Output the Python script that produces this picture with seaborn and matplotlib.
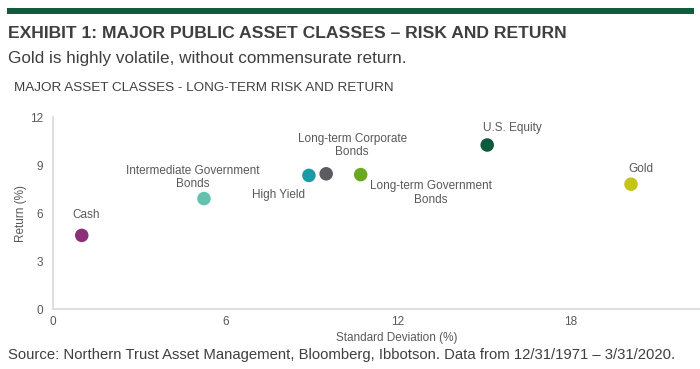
import matplotlib
matplotlib.use("Agg")
import matplotlib.pyplot as plt
import seaborn as sns
import pandas as pd

names = ["Cash", "Intermediate Government\nBonds", "High Yield",
         "Long-term Corporate\nBonds", "Long-term Government\nBonds",
         "U.S. Equity", "Gold"]
std_dev = [1.0, 5.25, 8.9, 9.5, 10.7, 15.1, 20.1]
returns = [4.6, 6.9, 8.35, 8.45, 8.4, 10.25, 7.8]
colors = ["#8B2F78", "#62C2AE", "#1A9BA6", "#5B5C60", "#6BA822", "#0E5A3C", "#C4C41A"]
x_ticks = [0, 6, 12, 18]
y_ticks = [0, 3, 6, 9, 12]

# label offsets in pixels (dx, dy) relative to each point
offsets = [(4, 20), (-11, 21), (-30, -20), (26, 28), (70, -18.5), (25, 16.7), (10, 15.6)]

sns.set_theme(style="white")
plt.rcParams['font.family'] = ['Liberation Sans', 'DejaVu Sans']

W, H = 700, 369
fig = plt.figure(figsize=(7.0, 3.69), dpi=100)
fig.patch.set_facecolor("white")

# top green rule
fig.add_artist(plt.Line2D([7 / W, 694 / W], [1 - 10.5 / H, 1 - 10.5 / H], color="#0D5C3A", lw=4.3, solid_capstyle="butt"))

fig.text(8 / W, 1 - 34 / H, "EXHIBIT 1: MAJOR PUBLIC ASSET CLASSES – RISK AND RETURN",
         fontsize=12.6, fontweight="bold", color="#3F3F3F", va="center", ha="left")
fig.text(8 / W, 1 - 58 / H, "Gold is highly volatile, without commensurate return.",
         fontsize=12.3, color="#3F3F3F", va="center", ha="left")
fig.text(14 / W, 1 - 88 / H, "MAJOR ASSET CLASSES - LONG-TERM RISK AND RETURN",
         fontsize=9.7, color="#404040", va="center", ha="left")
fig.text(8 / W, 1 - 355 / H,
         "Source: Northern Trust Asset Management, Bloomberg, Ibbotson. Data from 12/31/1971 – 3/31/2020.",
         fontsize=10.7, color="#3F3F3F", va="center", ha="left")

ax = fig.add_axes([53 / W, 1 - 309 / H, (700 - 53) / W, (309 - 117) / H])
df = pd.DataFrame({"Asset": names, "Std": std_dev, "Ret": returns})
sns.scatterplot(data=df, x="Std", y="Ret", hue="Asset", palette=colors, s=95,
                edgecolor="none", legend=False, ax=ax, zorder=3)

for n, xv, yv, (dx, dy) in zip(names, std_dev, returns, offsets):
    ax.annotate(n, (xv, yv), xytext=(dx * 0.72, dy * 0.72), textcoords="offset points",
                ha="center", va="center", fontsize=8.5, color="#595959", linespacing=1.15)

ax.set_xlim(0, 22.5)
ax.set_ylim(0, 12)
ax.set_xticks(x_ticks)
ax.set_yticks(y_ticks)
ax.tick_params(axis="both", length=0, labelsize=8.5, labelcolor="#595959")
ax.tick_params(axis="y", pad=7)
ax.tick_params(axis="x", pad=5)
for s in ["top", "right"]:
    ax.spines[s].set_visible(False)
for s in ["left", "bottom"]:
    ax.spines[s].set_color("#D9D9D9")
    ax.spines[s].set_linewidth(1.2)
ax.set_xlabel("Standard Deviation (%)", fontsize=8.5, color="#595959", labelpad=5)
ax.xaxis.set_label_coords((397 - 53) / 647, -23 / 192)
ax.set_ylabel("Return (%)", fontsize=8.5, color="#595959", labelpad=2)
ax.grid(False)

fig.savefig("out.png", dpi=100)
